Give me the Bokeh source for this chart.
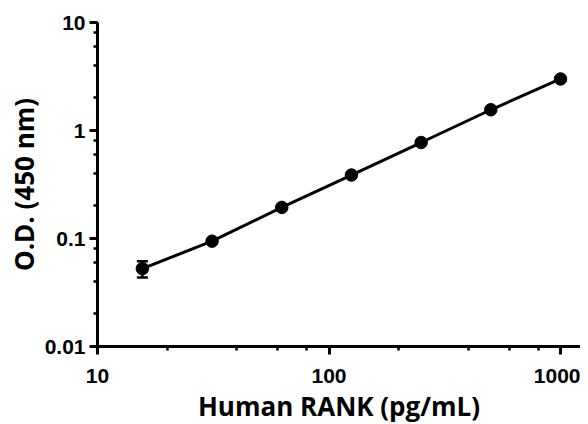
from bokeh.plotting import figure
from bokeh.models import ColumnDataSource, Whisker, TeeHead, LogTicker
from bokeh.embed import file_html
from bokeh.resources import INLINE

conc = [15.625, 31.25, 62.5, 125, 250, 500, 1000]
od = [0.0526, 0.0944, 0.194, 0.387, 0.774, 1.556, 3.0]
od_err = [0.009, 0.004, 0.004, 0.008, 0.012, 0.02, 0.03]
x_ticks = [10, 100, 1000]
y_ticks = [0.01, 0.1, 1, 10]

upper = [v + e for v, e in zip(od, od_err)]
lower = [v - e for v, e in zip(od, od_err)]
src = ColumnDataSource(dict(x=conc, y=od, upper=upper, lower=lower))

p = figure(width=580, height=430, x_axis_type="log", y_axis_type="log",
           x_range=(10, 1220), y_range=(0.01, 10),
           output_backend="svg", toolbar_location=None,
           min_border_left=97, min_border_right=0, min_border_top=22, min_border_bottom=84)
p.outline_line_color = None
p.grid.visible = False
p.background_fill_color = "white"
p.border_fill_color = "white"

p.line("x", "y", source=src, line_color="black", line_width=3)
w = Whisker(source=src, base="x", upper="upper", lower="lower", dimension="height",
            line_color="black", line_width=2.5,
            upper_head=TeeHead(size=11, line_color="black", line_width=2.5),
            lower_head=TeeHead(size=11, line_color="black", line_width=2.5))
p.add_layout(w)
p.scatter("x", "y", source=src, size=12.5, fill_color="black", line_color="black")

for ax in (p.xaxis[0], p.yaxis[0]):
    ax.axis_line_width = 3
    ax.axis_line_color = "black"
    ax.major_tick_line_width = 3
    ax.minor_tick_line_width = 2.5
    ax.major_tick_in = 0
    ax.minor_tick_in = 0
    ax.major_tick_out = 8
    ax.minor_tick_out = 4
    ax.major_label_text_font = "Liberation Sans"
    ax.major_label_text_font_style = "bold"
    ax.major_label_text_font_size = "21px"
    ax.major_label_text_color = "black"
    ax.axis_label_text_font = "Open Sans"
    ax.axis_label_text_font_style = "bold"
    ax.axis_label_text_font_size = "26px"
    ax.axis_label_text_color = "black"

p.xaxis.ticker = LogTicker(desired_num_ticks=3, mantissas=[1])
p.yaxis.ticker = LogTicker(desired_num_ticks=4, mantissas=[1])
p.xaxis.major_label_overrides = {10: "10", 100: "100", 1000: "1000"}
p.yaxis.major_label_overrides = {0.01: "0.01", 0.1: "0.1", 1: "1", 10: "10"}
p.xaxis.axis_label = "Human RANK (pg/mL)"
p.yaxis.axis_label = "O.D. (450 nm)"
p.xaxis.major_label_standoff = 14
p.yaxis.major_label_standoff = 4
p.xaxis.axis_label_standoff = 2
p.yaxis.axis_label_standoff = 0

open("out.html", "w").write(file_html(p, INLINE))
